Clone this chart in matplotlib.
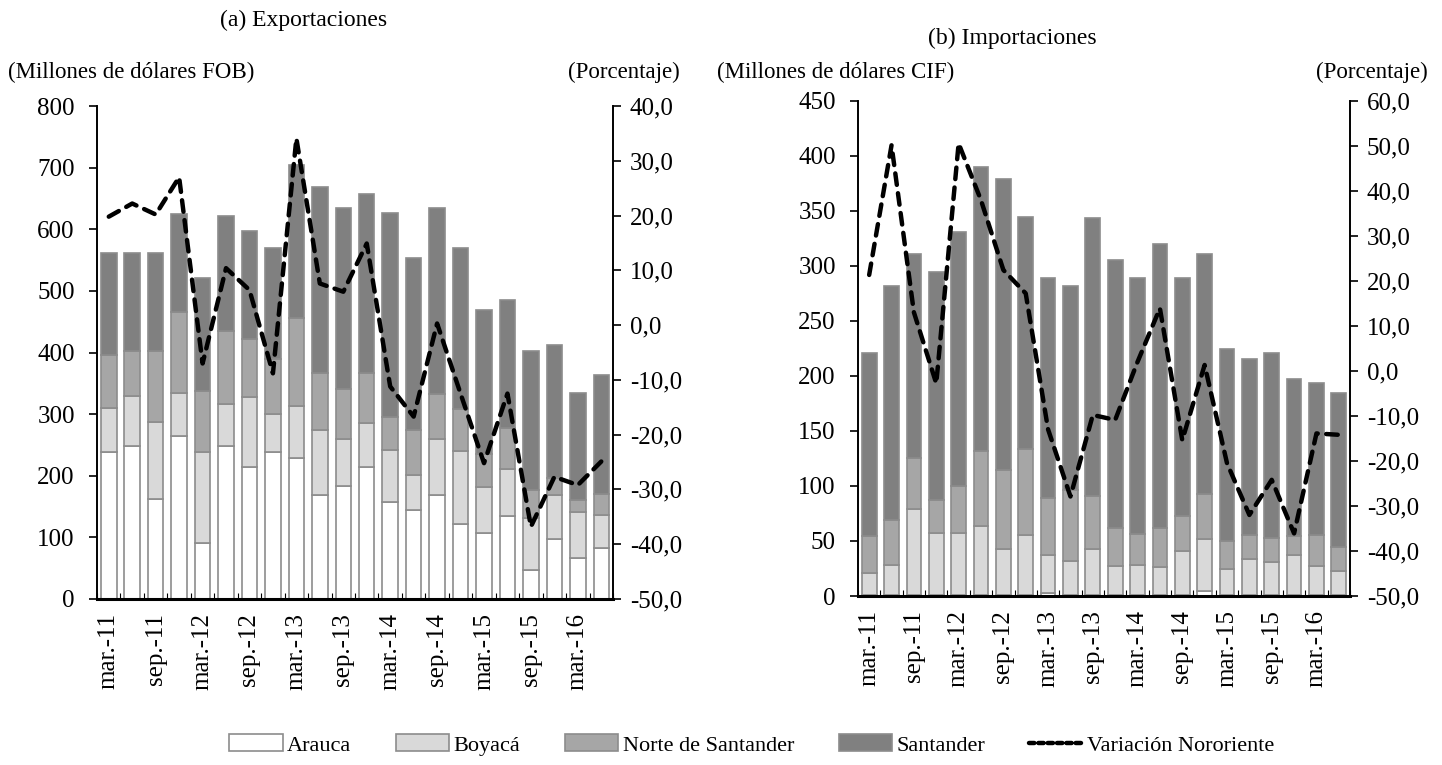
import matplotlib
matplotlib.use("Agg")
import matplotlib.pyplot as plt
import numpy as np
from matplotlib.patches import Patch
from matplotlib.lines import Line2D

plt.rcParams['font.family'] = ['Liberation Serif', 'DejaVu Serif']

quarters = ['mar.-11', 'jun.-11', 'sep.-11', 'dic.-11',
            'mar.-12', 'jun.-12', 'sep.-12', 'dic.-12',
            'mar.-13', 'jun.-13', 'sep.-13', 'dic.-13',
            'mar.-14', 'jun.-14', 'sep.-14', 'dic.-14',
            'mar.-15', 'jun.-15', 'sep.-15', 'dic.-15',
            'mar.-16', 'jun.-16']

series_names = ['Arauca', 'Boyacá', 'Norte de Santander', 'Santander']
line_name = 'Variación Nororiente'

# (a) Exportaciones (millones de dólares FOB)
exp_arauca = [239, 249, 162, 265, 91, 249, 214, 239, 229, 169, 183, 214, 157, 144, 169, 121, 107, 134, 47, 98, 66, 82]
exp_boyaca = [71, 81, 126, 70, 148, 68, 113, 62, 85, 106, 76, 72, 85, 57, 91, 119, 75, 77, 85, 71, 75, 55]
exp_norte = [86, 72, 114, 131, 98, 118, 95, 88, 142, 92, 82, 81, 54, 74, 72, 69, 54, 66, 45, 27, 20, 34]
exp_santander = [166, 160, 160, 158, 184, 186, 176, 181, 248, 301, 293, 290, 331, 279, 302, 261, 233, 209, 225, 216, 173, 192]
exp_var = [19.8, 22.2, 20.2, 27.0, -7.0, 10.4, 6.4, -8.8, 34.1, 7.6, 6.1, 14.9, -11.2, -16.7, 0.3, -12.5, -25.2, -12.5, -36.8, -27.7, -29.2, -24.9]

# (b) Importaciones (millones de dólares CIF)
imp_arauca = [0.5, 0.5, 0.5, 0.5, 0.5, 0.5, 0.5, 0.5, 3, 0.5, 0.5, 0.5, 0.5, 0.5, 0.5, 4.5, 0.5, 0.5, 0.5, 0.5, 0.5, 0.5]
imp_boyaca = [20.7, 28, 78.5, 57, 56.5, 63.5, 42.2, 54.9, 34.5, 31.5, 42.2, 27, 28, 26.1, 40.4, 47.3, 24.3, 33.1, 30.5, 37, 26.5, 22.5]
imp_norte = [33.6, 40.5, 46, 30, 43, 68, 71.8, 78.6, 51.5, 64, 48.3, 34.5, 28.1, 35.4, 31.8, 41.2, 24.9, 21.4, 22, 17.3, 28, 21.2]
imp_santander = [165.7, 212.6, 185.7, 207.2, 230.4, 258, 264.5, 210.6, 200.2, 185.6, 252, 243.3, 232.6, 257.5, 216.5, 217.7, 174.7, 160.3, 167.5, 142.4, 138.5, 140.2]
imp_var = [21.3, 50.1, 13.0, -2.8, 50.5, 37.9, 22.4, 17.2, -13.0, -27.9, -9.8, -10.9, 2.0, 13.9, -15.4, 1.3, -20.5, -32.0, -24.2, -36.1, -13.9, -14.2]

colors = ['#FFFFFF', '#D9D9D9', '#A6A6A6', '#808080']
edge = '#8C8C8C'
FS = 16
TFS = 18

fig = plt.figure(figsize=(14.42, 7.65), dpi=100)


def fmt_comma(v):
    return f"{v:.1f}".replace('.', ',')


def panel(rect, stacks, var, ylim, yticks, y2lim, y2ticks):
    ax = fig.add_axes(rect)
    x = np.arange(len(quarters))
    bottom = np.zeros(len(quarters))
    for vals, c in zip(stacks, colors):
        v = np.array(vals, dtype=float)
        ax.bar(x, v, bottom=bottom, width=0.66, color=c, edgecolor=edge, linewidth=1.2, zorder=2)
        bottom += v
    ax.set_xlim(-0.5, len(quarters) - 0.5)
    ax.set_ylim(*ylim)
    ax.set_yticks(yticks)
    ax.set_yticklabels([str(t) for t in yticks], fontsize=TFS)
    ax.set_xticks(x[::2])
    ax.set_xticklabels(quarters[::2], rotation=90, fontsize=TFS)
    ax.set_xticks(np.arange(-0.5, len(quarters), 1.0), minor=True)
    ax.tick_params(axis='x', which='major', length=0, pad=10)
    ax.tick_params(axis='x', which='minor', direction='in', length=4, width=0.8, color='black')
    ax.tick_params(axis='y', direction='out', length=6, width=1.2, pad=10)
    ax.spines['top'].set_visible(False)
    ax.spines['right'].set_visible(False)
    ax.spines['left'].set_linewidth(1.4)
    ax.spines['bottom'].set_linewidth(2.2)
    ax.spines['bottom'].set_zorder(5)

    ax2 = ax.twinx()
    ax2.plot(x, var, color='black', linewidth=3.2, linestyle=(0, (2.6, 1.9)),
             dash_capstyle='round', solid_capstyle='round', zorder=4)
    ax2.set_ylim(*y2lim)
    ax2.set_yticks(y2ticks)
    ax2.set_yticklabels([fmt_comma(t) for t in y2ticks], fontsize=TFS)
    ax2.tick_params(axis='y', direction='out', length=6, width=1.2, pad=6)
    ax2.spines['top'].set_visible(False)
    ax2.spines['left'].set_visible(False)
    ax2.spines['bottom'].set_visible(False)
    ax2.spines['right'].set_linewidth(1.4)
    return ax, ax2


panel([0.0673, 0.2170, 0.3578, 0.6444],
      [exp_arauca, exp_boyaca, exp_norte, exp_santander], exp_var,
      (0, 800), list(range(0, 801, 100)), (-50, 40), list(range(-50, 41, 10)))
panel([0.5950, 0.2209, 0.3412, 0.6475],
      [imp_arauca, imp_boyaca, imp_norte, imp_santander], imp_var,
      (0, 450), list(range(0, 451, 50)), (-50, 60), list(range(-50, 61, 10)))

fig.text(304 / 1442, 1 - 20 / 765, '(a) Exportaciones', ha='center', va='center', fontsize=17)
fig.text(8 / 1442, 1 - 72 / 765, '(Millones de dólares FOB)', ha='left', va='center', fontsize=16.5)
fig.text(680 / 1442, 1 - 72 / 765, '(Porcentaje)', ha='right', va='center', fontsize=16.5)
fig.text(1012 / 1442, 1 - 38 / 765, '(b) Importaciones', ha='center', va='center', fontsize=17)
fig.text(717 / 1442, 1 - 72 / 765, '(Millones de dólares CIF)', ha='left', va='center', fontsize=16.5)
fig.text(1428 / 1442, 1 - 72 / 765, '(Porcentaje)', ha='right', va='center', fontsize=16.5)

handles = [Patch(facecolor=c, edgecolor=edge, linewidth=1.2) for c in colors]
handles.append(Line2D([0], [0], color='black', linewidth=3.2, linestyle=(0, (1.2, 0.9)),
                      dash_capstyle='round'))
fig.legend(handles, series_names + [line_name], loc='center', ncol=5,
           bbox_to_anchor=(752 / 1442, 1 - 745 / 765), frameon=False, fontsize=FS,
           handlelength=2.4, handleheight=0.8, handletextpad=0.2, columnspacing=2.0,
           borderaxespad=0)

fig.savefig('out.png', dpi=100)
